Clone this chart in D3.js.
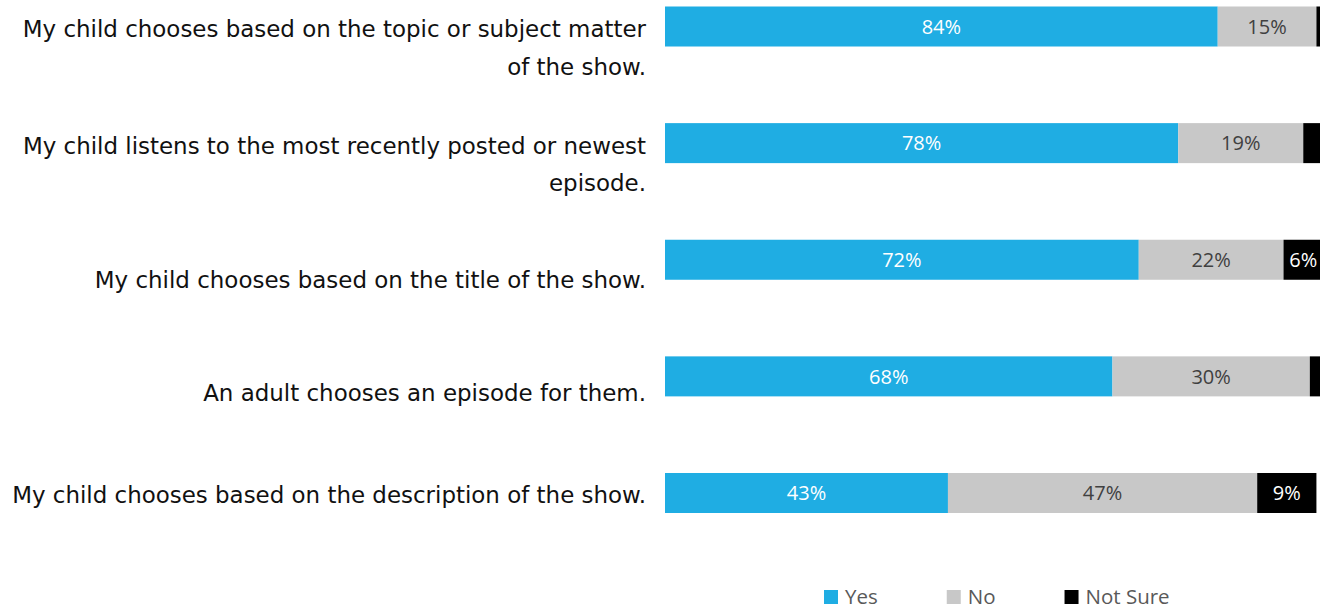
<!DOCTYPE html>
<html>
<head>
<meta charset="utf-8">
<script src="https://cdn.jsdelivr.net/npm/d3@7"></script>
<style>
  html, body { margin: 0; padding: 0; background: #ffffff; }
  svg { display: block; }
</style>
</head>
<body>
<svg id="chart" width="1320" height="610"></svg>
<script>
// Survey question categories (wrapped the way they are printed)
const categories = [
  "My child chooses based on the topic or subject matter of the show.",
  "My child listens to the most recently posted or newest episode.",
  "My child chooses based on the title of the show.",
  "An adult chooses an episode for them.",
  "My child chooses based on the description of the show."
];
const categoryLines = [
  ["My child chooses based on the topic or subject matter", "of the show."],
  ["My child listens to the most recently posted or newest", "episode."],
  ["My child chooses based on the title of the show."],
  ["An adult chooses an episode for them."],
  ["My child chooses based on the description of the show."]
];

// Percentages per answer
const seriesNames = ["Yes", "No", "Not Sure"];
const yesValues = [84, 78, 72, 68, 43];
const noValues = [15, 19, 22, 30, 47];
const notSureValues = [1, 3, 6, 2, 9];

const colors = { "Yes": "#1fade3", "No": "#c8c8c8", "Not Sure": "#000000" };
const labelColors = { "Yes": "#ffffff", "No": "#404040", "Not Sure": "#ffffff" };

const rows = categories.map((c, i) => ({
  category: c,
  "Yes": yesValues[i],
  "No": noValues[i],
  "Not Sure": notSureValues[i]
}));

const stack = d3.stack().keys(seriesNames);
const layers = stack(rows);

const svg = d3.select("#chart");

const x = d3.scaleLinear().domain([0, 100]).range([665, 1323]);
const y = d3.scaleBand()
  .domain(categories)
  .range([6.5, 513])
  .paddingInner(0.657)
  .paddingOuter(0);

// Bars
const layerG = svg.append("g")
  .selectAll("g")
  .data(layers)
  .join("g")
  .attr("fill", d => colors[d.key]);

layerG.selectAll("rect")
  .data(d => d.map(s => ({ key: d.key, s })))
  .join("rect")
  .attr("x", d => x(d.s[0]))
  .attr("y", d => y(d.s.data.category))
  .attr("width", d => x(d.s[1]) - x(d.s[0]))
  .attr("height", y.bandwidth());

// Value labels inside segments
const valueFont = "'Open Sans', 'Noto Sans', sans-serif";
layerG.selectAll("text")
  .data(d => d.map(s => ({ key: d.key, s })).filter(d => d.s[1] - d.s[0] >= 5))
  .join("text")
  .attr("x", d => (x(d.s[0]) + x(d.s[1])) / 2)
  .attr("y", d => y(d.s.data.category) + y.bandwidth() / 2)
  .attr("dy", "0.36em")
  .attr("text-anchor", "middle")
  .attr("font-family", valueFont)
  .attr("font-size", 20)
  .attr("fill", d => labelColors[d.key])
  .text(d => `${d.s[1] - d.s[0]}%`);

// Category labels, right-aligned left of the bars
const catFont = "'DejaVu Sans', sans-serif";
const labelRight = 646;
const lineGap = 37.5;
const firstBaseline = 30.5;
const labelNudge = [0, 0, 18, 14, 0];

// size the label font so the longest line spans the label column
const probe = svg.append("text")
  .attr("font-family", catFont)
  .attr("font-size", 20)
  .text("My child chooses based on the description of the show.");
const probeW = probe.node().getComputedTextLength();
probe.remove();
const catSize = 20 * 634 / probeW;

const catG = svg.append("g")
  .attr("font-family", catFont)
  .attr("font-size", catSize)
  .attr("fill", "#111111")
  .attr("text-anchor", "end");

categories.forEach((c, i) => {
  const t = catG.append("text")
    .attr("x", labelRight)
    .attr("y", y(c) + firstBaseline + labelNudge[i]);
  categoryLines[i].forEach((line, j) => {
    t.append("tspan")
      .attr("x", labelRight)
      .attr("dy", j === 0 ? 0 : lineGap)
      .text(line);
  });
});

// Legend
const legendFont = "'Open Sans', 'Noto Sans', sans-serif";
const legend = svg.append("g")
  .attr("font-family", legendFont)
  .attr("font-size", 20.5)
  .attr("fill", "#595959");

let lx = 824;
seriesNames.forEach(name => {
  legend.append("rect")
    .attr("x", lx)
    .attr("y", 590)
    .attr("width", 14)
    .attr("height", 14)
    .attr("fill", colors[name]);
  const t = legend.append("text")
    .attr("x", lx + 21)
    .attr("y", 603.5)
    .text(name);
  lx = lx + 21 + t.node().getComputedTextLength() + 69;
});
</script>
</body>
</html>
